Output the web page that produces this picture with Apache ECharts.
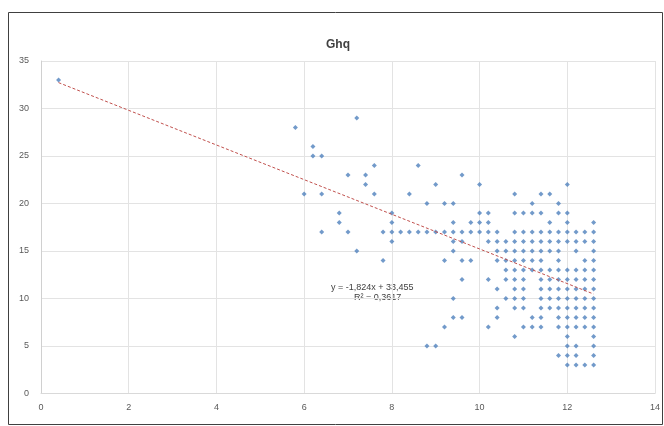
<!DOCTYPE html>
<html>
<head>
<meta charset="utf-8">
<script src="https://cdn.jsdelivr.net/npm/echarts@6/dist/echarts.min.js"></script>
<style>
html,body{margin:0;padding:0;background:#fff;}
#chart{width:664px;height:426px;}
</style>
</head>
<body>
<div id="chart"></div>
<script>
// Ghq levels (y) and the x values observed at each level
const ghqLevels = [33, 29, 28, 26, 25, 24, 23, 22, 21, 20, 19, 18, 17, 16, 15, 14, 13, 12, 11, 10, 9, 8, 7, 6, 5, 4, 3];
const xAtLevel = [
  [0.4],
  [7.2],
  [5.8],
  [6.2],
  [6.2, 6.4],
  [7.6, 8.6],
  [7.0, 7.4, 9.6],
  [7.4, 9.0, 10.0, 12.0],
  [6.0, 6.4, 7.6, 8.4, 10.8, 11.4, 11.6],
  [8.8, 9.2, 9.4, 11.2, 11.8],
  [6.8, 8.0, 10.0, 10.2, 10.8, 11.0, 11.2, 11.4, 11.8, 12.0],
  [6.8, 8.0, 9.4, 9.8, 10.0, 10.2, 11.6, 12.0, 12.6],
  [6.4, 7.0, 7.8, 8.0, 8.2, 8.4, 8.6, 8.8, 9.0, 9.2, 9.4, 9.6, 9.8, 10.0, 10.2, 10.4, 10.8, 11.0, 11.2, 11.4, 11.6, 11.8, 12.0, 12.2, 12.4, 12.6],
  [8.0, 9.4, 9.6, 10.2, 10.4, 10.6, 10.8, 11.0, 11.2, 11.4, 11.6, 11.8, 12.0, 12.2, 12.4, 12.6],
  [7.2, 9.4, 10.4, 10.6, 10.8, 11.0, 11.2, 11.4, 11.6, 11.8, 12.2, 12.6],
  [7.8, 9.2, 9.6, 9.8, 10.4, 10.6, 10.8, 11.0, 11.2, 11.4, 11.8, 12.4, 12.6],
  [10.6, 10.8, 11.0, 11.2, 11.4, 11.6, 11.8, 12.0, 12.2, 12.4, 12.6],
  [9.6, 10.2, 10.6, 10.8, 11.0, 11.4, 11.6, 11.8, 12.0, 12.2, 12.4, 12.6],
  [10.4, 10.8, 11.0, 11.4, 11.6, 11.8, 12.0, 12.2, 12.4, 12.6],
  [9.4, 10.6, 10.8, 11.0, 11.4, 11.6, 11.8, 12.0, 12.2, 12.4, 12.6],
  [10.4, 10.8, 11.0, 11.4, 11.6, 11.8, 12.0, 12.2, 12.4, 12.6],
  [9.4, 9.6, 10.4, 11.2, 11.4, 11.8, 12.0, 12.2, 12.4, 12.6],
  [9.2, 10.2, 11.0, 11.2, 11.4, 11.8, 12.0, 12.2, 12.4, 12.6],
  [10.8, 12.0, 12.6],
  [8.8, 9.0, 12.0, 12.2, 12.6],
  [11.8, 12.0, 12.2, 12.6],
  [12.0, 12.2, 12.4, 12.6]
];
const xTicks = [0, 2, 4, 6, 8, 10, 12, 14];
const yTicks = [0, 5, 10, 15, 20, 25, 30, 35];
const trendSlope = -1.824;
const trendIntercept = 33.455;
const trendLabel = 'y = -1,824x + 33,455';
const r2Label = 'R² = 0,3617';

const points = [];
ghqLevels.forEach((g, i) => xAtLevel[i].forEach(x => points.push([x, g])));
const xs = points.map(p => p[0]);
const xMin = Math.min(...xs), xMax = Math.max(...xs);
const trend = [[xMin, trendIntercept + trendSlope * xMin], [xMax, trendIntercept + trendSlope * xMax]];

const chart = echarts.init(document.getElementById('chart'), null, {renderer: 'canvas'});
const labelStyle = {color: '#595959', fontSize: 9, fontFamily: 'Liberation Sans, Arial, sans-serif'};
chart.setOption({
  animation: false,
  title: {
    text: 'Ghq', left: 333, top: 34, textAlign: 'center',
    textStyle: {fontSize: 12, fontWeight: 'bold', color: '#404040', fontFamily: 'Liberation Sans, Arial, sans-serif'}
  },
  grid: {left: 41, right: 9, top: 61, bottom: 32.5, containLabel: false},
  xAxis: {
    type: 'value', min: xTicks[0], max: xTicks[xTicks.length - 1], interval: 2,
    axisLine: {show: true, lineStyle: {color: '#d9d9d9'}},
    axisTick: {show: false},
    splitLine: {show: true, lineStyle: {color: '#e3e3e3'}},
    axisLabel: Object.assign({margin: 10}, labelStyle)
  },
  yAxis: {
    type: 'value', min: yTicks[0], max: yTicks[yTicks.length - 1], interval: 5,
    axisLine: {show: true, lineStyle: {color: '#d0d0d0'}},
    axisTick: {show: false},
    splitLine: {show: true, lineStyle: {color: '#e3e3e3'}},
    axisLabel: Object.assign({margin: 12}, labelStyle)
  },
  series: [
    {
      type: 'scatter', data: points, symbol: 'diamond', symbolSize: 5,
      itemStyle: {color: '#4F81BD'}
    },
    {
      type: 'line', data: trend, symbol: 'none', silent: true,
      lineStyle: {color: '#C0504D', width: 1, type: [3, 2]}
    }
  ],
  graphic: [
    {type: 'rect', shape: {x: 8.5, y: 12.5, width: 654, height: 412}, style: {fill: 'none', stroke: '#404040', lineWidth: 1}, silent: true},
    {type: 'text', left: 331, top: 283, style: {text: trendLabel, fill: '#404040', fontSize: 9, fontFamily: 'Liberation Sans, Arial, sans-serif'}},
    {type: 'text', left: 354, top: 293, style: {text: r2Label, fill: '#404040', fontSize: 9, fontFamily: 'Liberation Sans, Arial, sans-serif'}}
  ]
});
</script>
</body>
</html>
